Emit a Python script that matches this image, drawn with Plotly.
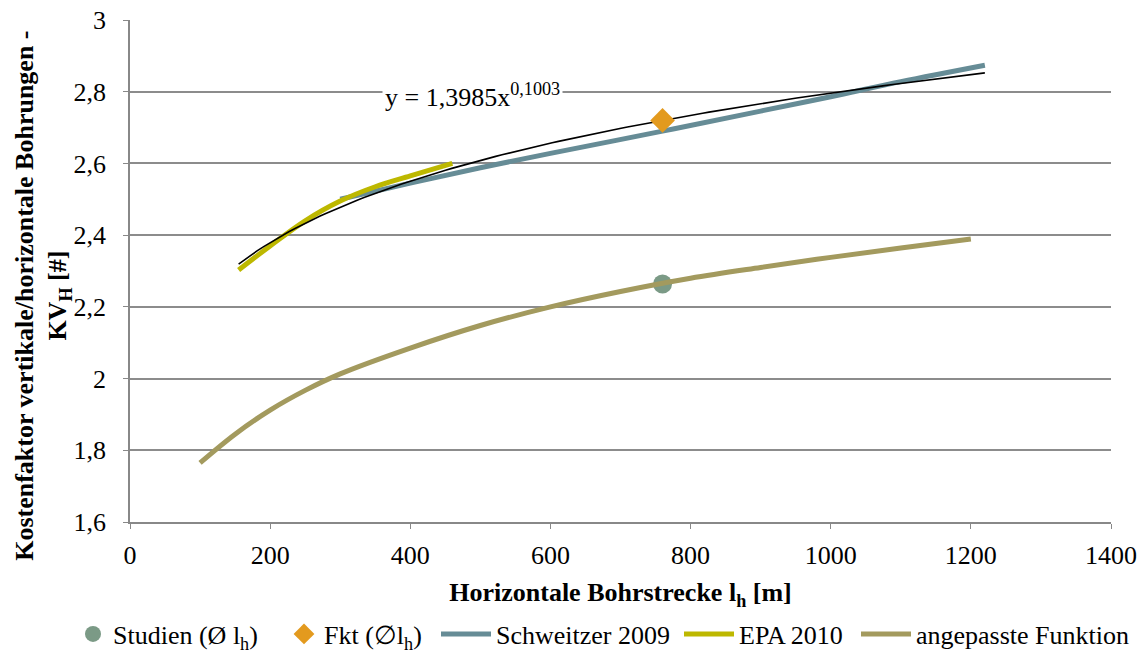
import numpy as np
import plotly.graph_objects as go

# Studies mean and function value at mean horizontal length
studien_x = [760]
studien_y = [2.264]
fkt_x = [760]
fkt_y = [2.72]

# Schweitzer 2009
schweitzer_x = [300, 400, 500, 600, 760, 900, 1000, 1100, 1220]
schweitzer_y = [2.50, 2.545, 2.588, 2.628, 2.69, 2.746, 2.786, 2.828, 2.874]

# EPA 2010
epa_x = [155, 200, 250, 300, 350, 400, 460]
epa_y = [2.303, 2.37, 2.44, 2.495, 2.535, 2.565, 2.60]

# Fitted function
angep_x = [100, 150, 200, 250, 300, 400, 500, 600, 700, 800, 900, 1000, 1100, 1200]
angep_y = [1.765, 1.845, 1.912, 1.967, 2.013, 2.085, 2.148, 2.20, 2.243, 2.28, 2.31, 2.338, 2.364, 2.389]

# Power trendline y = a * x^b
trend_a = 1.3985
trend_b = 0.1003
trend_x = np.linspace(155, 1220, 120)
trend_y = trend_a * trend_x ** trend_b

FONT = "Liberation Serif"
W, H = 1141, 653

fig = go.Figure()

fig.add_trace(go.Scatter(
    x=studien_x, y=studien_y, mode="markers", name="Studien (Ø l<sub>h</sub>)",
    marker=dict(symbol="circle", size=19, color="#7B9A86"), legend="legend"))
fig.add_trace(go.Scatter(
    x=schweitzer_x, y=schweitzer_y, mode="lines", name="Schweitzer 2009",
    line=dict(color="#668C96", width=5, shape="spline"), legend="legend3"))
fig.add_trace(go.Scatter(
    x=epa_x, y=epa_y, mode="lines", name="EPA 2010",
    line=dict(color="#BDB800", width=5, shape="spline"), legend="legend4"))
fig.add_trace(go.Scatter(
    x=trend_x, y=trend_y, mode="lines", name="Potenz (Fkt)",
    line=dict(color="black", width=1.6), showlegend=False))
fig.add_trace(go.Scatter(
    x=fkt_x, y=fkt_y, mode="markers", name="Fkt (∅l<sub>h</sub>)",
    marker=dict(symbol="diamond", size=19, color="#E39A1E"), legend="legend2"))
fig.add_trace(go.Scatter(
    x=angep_x, y=angep_y, mode="lines", name="angepasste Funktion",
    line=dict(color="#A39A5E", width=5, shape="spline"), legend="legend5"))

# Trendline equation
fig.add_annotation(
    x=489, y=2.79, xref="x", yref="y",
    text="y = 1,3985x<sup>0,1003</sup>", showarrow=False,
    font=dict(family=FONT, size=26, color="black"),
    bgcolor="white", borderpad=2)

# Y axis title
fig.add_annotation(
    x=-0.089, y=0.45, xref="paper", yref="paper", xanchor="center", yanchor="middle",
    text="<b>Kostenfaktor vertikale/horizontale Bohrungen -<br>KV<sub>H</sub> [#]</b>",
    textangle=-90, showarrow=False,
    font=dict(family=FONT, size=26, color="black"))


def legend_box(left_px, itemwidth):
    return dict(orientation="h", x=left_px / W, xref="container", xanchor="left",
                y=0.029, yref="container", yanchor="middle",
                font=dict(family=FONT, size=26, color="black"),
                itemwidth=itemwidth, bgcolor="rgba(0,0,0,0)")


fig.update_layout(
    width=W, height=H,
    margin=dict(l=130, r=30, t=20, b=131, autoexpand=False),
    plot_bgcolor="white", paper_bgcolor="white",
    separators=",.",
    font=dict(family=FONT, size=26, color="black"),
    showlegend=True,
    legend=legend_box(73, 30),
    legend2=legend_box(284, 30),
    legend3=legend_box(436, 50),
    legend4=legend_box(679, 50),
    legend5=legend_box(856, 50),
    xaxis=dict(
        range=[0, 1400], tickvals=[0, 200, 400, 600, 800, 1000, 1200, 1400],
        showgrid=False, zeroline=False, automargin=False,
        showline=True, linecolor="#888888", linewidth=1.5,
        ticks="outside", ticklen=5, tickcolor="#888888",
        ticklabelstandoff=4,
        tickfont=dict(family=FONT, size=26),
        title=dict(text="<b>Horizontale Bohrstrecke l<sub>h</sub> [m]</b>",
                   font=dict(family=FONT, size=26), standoff=14)),
    yaxis=dict(
        range=[1.6, 3.0], dtick=0.2, tick0=1.6, automargin=False,
        showgrid=True, gridcolor="#8C8C8C", gridwidth=1.5,
        zeroline=False, showline=True, linecolor="#888888", linewidth=1.5,
        ticks="outside", ticklen=5, tickcolor="#888888",
        ticklabelstandoff=12,
        tickfont=dict(family=FONT, size=26)),
)

fig.write_html("out.html")
